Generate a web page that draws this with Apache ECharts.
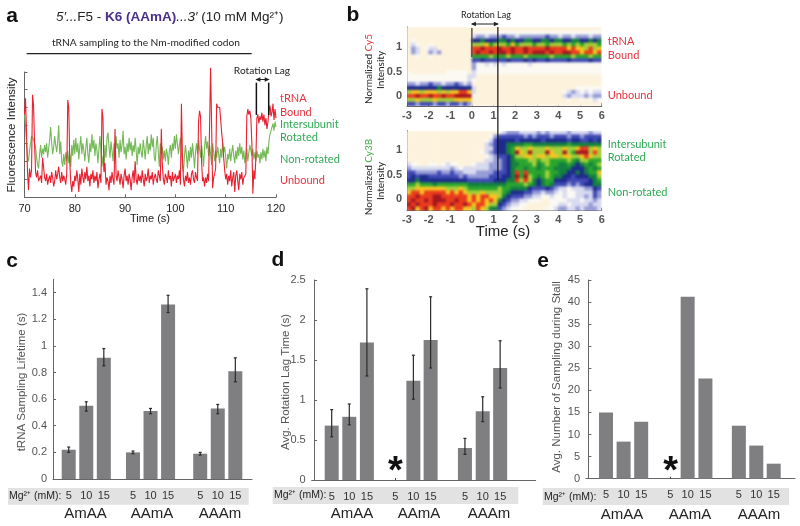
<!DOCTYPE html>
<html><head><meta charset="utf-8">
<script src="https://cdn.jsdelivr.net/npm/echarts@6/dist/echarts.min.js"></script>
<style>html,body{margin:0;padding:0;background:#fff}#c{width:800px;height:526px}</style></head>
<body><div id="c"></div>
<script>
// ---------- data ----------
const traceStart = 70, traceStep = 0.2;
const traceRed = [
4.6,5.5,3.6,1.4,0.4, 1.6,1.1,1.5,5.7,5.1, 3.0,1.4,1.1,1.5,0.9, 1.0,1.2,0.8,2.2,2.1, 1.1,0.9,1.3,0.7,1.0,
1.2,0.8,1.4,1.1,0.6, 0.9,1.5,1.0,1.3,1.7, 1.1,0.8,1.4,0.9,1.2, 1.0,0.7,1.3,5.4,5.0, 2.0,0.8,0.3,0.9,0.6,
1.2,0.9,1.5,1.0,0.3, 1.3,0.7,1.6,1.1,0.8, 1.4,1.0,1.7,0.9,1.2, 0.6,1.3,1.0,1.5,0.8, 1.2,0.9,1.4,0.5,1.0,
1.3,0.8,4.9,4.4,1.4, 1.9,0.7,1.1,0.9,0.4, 1.2,0.8,1.4,1.0,0.7, 3.8,1.2,0.9,1.5,1.1, 0.7,1.3,1.0,0.5,1.2,
1.6,0.9,1.2,0.7,1.3, 1.0,0.4,1.1,1.5,0.8, 2.0,1.0,0.7,1.3,0.9, 1.2,0.8,1.5,1.0,0.6, 1.3,0.9,1.1,1.6,0.8,
1.2,1.0,1.4,0.7,1.1, 1.3,1.0,0.8,1.5,1.2, 0.9,3.8,1.8,1.0,0.7, 1.3,1.1,0.8,1.5,1.0, 1.2,0.6,1.4,0.9,1.1,
1.3,0.8,1.2,1.0,1.5, 0.7,5.2,2.2,1.0,0.6, 1.2,0.9,1.4,0.8,1.1, 0.7,1.3,1.5,1.0,0.8, 1.4,1.1,0.9,4.2,4.8,
4.5,2.0,0.9,1.1,0.6, 1.1,0.8,1.3,0.9,1.0, 7.2,4.0,0.5,1.1,1.3, 1.6,5.2,5.0,4.9,5.0, 4.9,3.6,3.0,2.2,1.5,
1.0,1.3,0.7,1.2,0.9, 1.5,0.6,1.1,1.4,0.3, 1.2,1.5,0.9,0.4,1.3, 1.0,1.4,0.7,1.1,1.0, 1.3,4.5,4.9,4.6,4.8,
4.4,3.0,0.2,1.5,1.0, 2.2,4.4,4.6,4.1,4.5, 4.3,4.7,4.2,4.6,4.0, 4.4,3.8,4.2,4.8,5.1, 4.5,4.7,5.2,4.3,4.9, 4.4];
const traceGreen = [
4.6,4.0,3.0,2.2,2.0, 2.6,3.0,3.4,3.5,3.2, 3.3,2.8,2.2,1.8,1.6, 2.4,2.9,2.2,2.7,2.4, 2.9,2.5,3.0,2.2,2.7,
3.2,3.9,3.0,2.4,2.8, 3.4,2.9,2.5,3.1,4.0, 2.4,3.1,2.0,1.7,2.4, 1.8,2.5,2.0,2.6,1.9, 2.4,1.7,2.9,2.3,3.2,
2.4,3.3,2.5,3.0,2.1, 2.8,3.4,2.4,3.0,2.6, 2.0,2.8,3.3,2.4,1.9, 3.0,2.5,3.5,2.7,3.2, 2.3,3.0,2.6,1.9,2.7,
3.4,2.5,1.7,2.3,1.5, 2.9,2.2,3.3,3.6,2.8, 2.2,3.1,2.6,2.0,3.0, 2.4,3.4,2.7,3.0,2.2, 3.2,2.5,2.9,3.7,2.4,
2.8,2.1,3.0,2.5,3.3, 2.6,3.1,2.3,2.9,2.5, 3.3,2.6,1.8,2.8,2.4, 3.0,2.5,2.2,3.2,2.7, 2.1,2.9,3.4,2.4,3.0,
2.6,3.5,2.8,3.3,2.2, 2.0,2.9,3.4,2.5,1.7, 3.0,2.4,2.8,2.1,2.6, 2.0,2.7,2.4,1.8,2.6, 2.9,2.2,3.0,2.6,3.4,
2.7,3.5,3.0,2.4,2.9, 3.3,2.4,1.8,1.4,2.3, 2.9,2.3,1.6,2.6,2.0, 2.8,2.2,3.0,2.4,1.6, 2.5,3.0,2.4,3.2,2.7,
2.2,2.9,2.4,1.7,2.8, 3.4,2.7,3.1,2.3,2.9, 2.4,1.8,3.0,2.5,2.0, 2.6,2.2,2.8,2.4,1.9, 2.7,2.2,3.0,2.5,2.8,
2.2,1.6,2.4,2.1,2.7, 2.0,2.5,2.9,2.3,1.9, 2.6,2.1,2.8,2.3,3.0, 2.4,2.8,2.1,2.6,1.9, 2.3,2.7,2.0,2.5,2.9,
3.0,2.3,2.7,2.1,2.5, 2.0,2.6,2.2,2.4,1.9, 2.5,2.1,2.7,2.2,2.6, 2.0,2.8,2.4,3.1,3.5, 3.4,3.9,4.1,3.7,4.2, 3.9];
const rotationLagStart = 116.1, rotationLagEnd = 118.55;

// density levels 0..b, one string per row from top (1.36) to bottom (-0.16), 0.2 s per column
const heatTop = [
"00000 00000 00000 00000 00000 00000 00000 00000 00000",
"00000 00000 00000 01111 11111 11111 11111 11111 11111",
"00000 00000 00000 23323 33433 23333 33433 23323 33233",
"01000 00000 00000 55655 56656 55665 56656 65566 55656",
"02100 10000 00000 88897 88879 78887 88788 87878 78887",
"03201 22000 00000 aabaa abaab aabaa aabaa aa9a9 98a89",
"03200 32300 00000 abaab abbab aabab bbaba abbaa 9aa9a",
"00100 10000 00000 77778 77787 77877 77787 77787 77877",
"00000 00000 00000 44544 44454 44545 44544 44544 44544",
"00000 00000 00000 31121 21211 11121 11111 11111 11111",
"00000 00000 00000 31111 11111 11111 11111 11111 11111",
"10000 00001 11110 21111 11111 11111 11111 11111 11111",
"11111 11111 11112 20000 00000 00000 00000 00000 00000",
"11111 11111 11112 10000 00000 00000 00000 00000 00000",
"33233 43323 34323 00000 00000 00000 00000 00000 00000",
"55555 55655 55555 20000 00000 00000 00000 00001 11111",
"89989 99898 99aa9 20000 00000 00000 00000 01232 12122",
"aabaa baaba abbbb 10000 00000 00000 00000 02322 23233",
"88988 89888 89999 00000 00000 00000 00000 00100 10121",
"44344 43443 44343 00000 00000 00000 00000 00000 00000"];
const heatBottom = [
"00000 00000 00000 00000 01233 32222 32322 22322 22322",
"00000 00000 00000 00001 34444 44343 44434 44344 34444",
"00000 00000 00000 00012 45555 45555 54555 55455 44545",
"00000 00000 00000 00023 45566 66776 66666 66766 66666",
"00000 00000 00000 00022 45567 98898 88988 89889 aa898",
"00000 00000 00000 00123 45567 b98b8 88b98 8b87b bb8a8",
"00000 00000 00000 00012 34456 88998 99899 89988 9a988",
"00000 00000 00000 00022 33456 77788 78877 77876 88777",
"21100 11012 11000 12223 33456 67778 67877 66765 67678",
"32222 22222 32122 22223 33456 77677 67776 66655 56767",
"44333 33433 43322 23333 44456 a7a77 77877 66556 56779",
"45455 44444 44343 33334 44556 b7b87 67876 65545 55668",
"55655 55555 55554 44444 55566 a8a86 56775 55444 44567",
"77877 76777 77776 66666 66677 77876 56764 44343 45566",
"88999 99998 88987 77777 78776 66654 44543 22122 23354",
"9aa9a aaaa9 a9a98 88988 88765 55443 32332 12112 22243",
"aabaa abbaa aaaa9 a9aa9 98654 44332 21121 12112 23243",
"abaab abbba abaa9 a9a9a 96543 32211 10011 11222 12232",
"babaa abaaa baaba 9aa98 85432 21100 00011 22122 22322",
"ab9ab 9aa9a 9aa99 8a986 64321 11000 00112 33223 23332"];
const heatColors = ['#fdf2dc','#fbf9f2','#d8daf0','#959bd6','#3f49b5','#1c2a8c','#12803f','#2aa52d','#a6cf37','#f6c51e','#ea3b1c','#a5141f'];

const mgLabels = ['5','10','15','5','10','15','5','10','15'];
const groupNames = ['AmAA','AAmA','AAAm'];

const lifetime    = [0.22,0.55,0.91, 0.20,0.51,1.31, 0.19,0.53,0.81];
const lifetimeLow = [0.20,0.51,0.85, 0.19,0.49,1.25, 0.18,0.49,0.73];
const lifetimeHigh= [0.24,0.58,0.98, 0.21,0.53,1.38, 0.20,0.56,0.91];

const lagTime     = [0.68,0.79,1.72, null,1.24,1.75, 0.40,0.86,1.40];
const lagLow      = [0.54,0.69,1.30, null,1.01,1.40, 0.32,0.73,1.15];
const lagHigh     = [0.88,0.95,2.39, null,1.56,2.29, 0.52,1.04,1.74];

const samplingCount = [15,8.4,12.9, null,41.2,22.7, 12,7.5,3.4];

const slotsC = [1,2,3, 4.66,5.66,6.66, 8.49,9.49,10.49];
const slotsD = [1,2,3, 4.61,5.64,6.62, 8.57,9.58,10.57];
const slotsE = [1,2,3, 4.66,5.64,6.65, 8.55,9.54,10.53];

// ---------- helpers ----------
const FONT = 'Liberation Sans', SIDE = 'Lato';
const RED = '#e5343f', GREEN = '#2faa55', GREY = '#555';
const hexRows = rows => {
  const out = [];
  rows.forEach((r, y) => r.replace(/ /g,'').split('').forEach((c, x) => out.push([x, rows.length - 1 - y, parseInt(c, 16)])));
  return out;
};
const idx = n => Array.from({length:n}, (_, i) => i);
const grids = [
  {left:24.5, top:72,    width:251.5, height:125.3},
  {left:407,  top:27,    width:194.7, height:79},
  {left:407,  top:130.7, width:194.7, height:80},
  {left:53,   top:279.3, width:199,   height:199.7},
  {left:311.7,top:280,   width:224,   height:200},
  {left:586,  top:280,   width:209,   height:198.7}
];
const axisLine = {show:true, lineStyle:{color:'#666', width:1}};
const tick = {show:true, inside:true, length:3, lineStyle:{color:'#666'}};
const barX = (g, min, max, slots, blank) => ({
  type:'value', gridIndex:g, min, max, splitLine:{show:false}, axisLine,
  axisTick: blank ? {show:true, inside:true, length:2, lineStyle:{color:'#444'}, customValues:[blank]} : {show:false},
  axisLabel:{show:true, customValues:slots, margin:11, fontSize:11, color:'#333', fontFamily:FONT,
             formatter:(v)=> mgLabels[slots.indexOf(v)]}
});
const barY = (g, max, vals) => ({
  type:'value', gridIndex:g, min:0, max, splitLine:{show:false}, axisLine,
  axisTick:{...tick, customValues:vals},
  axisLabel:{customValues:vals, margin:6, fontSize:11, color:GREY, fontFamily:FONT}
});
const heatCat = (g, n) => ({type:'category', gridIndex:g, data:idx(n), show:false});
const heatValX = g => ({
  type:'value', gridIndex:g, position:'bottom', min:-3, max:6, splitLine:{show:false}, axisLine,
  axisTick:{...tick, customValues:[-3,-2,-1,0,1,2,3,4,5,6]},
  axisLabel:{customValues:[-3,-2,-1,0,1,2,3,4,5,6], margin:4, fontSize:11, fontWeight:'bold', color:GREY, fontFamily:FONT}
});
const heatValY = (g, min, max) => ({
  type:'value', gridIndex:g, position:'left', min, max, splitLine:{show:false}, axisLine,
  axisTick:{...tick, customValues:[0,0.5,1]},
  axisLabel:{customValues:[0,0.5,1], margin:5, fontSize:11, fontWeight:'bold', color:GREY, fontFamily:FONT}
});
const xAxis = [
  {type:'value', gridIndex:0, min:70, max:120, interval:10, splitLine:{show:false}, axisLine, axisTick:tick,
   axisLabel:{margin:6, fontSize:11, color:'#222', fontFamily:FONT}},
  heatCat(1,45), heatValX(1), heatCat(2,45), heatValX(2),
  barX(3,0.105,11.44,slotsC,null), barX(4,-0.136,12.59,slotsD,slotsD[3]), barX(5,-0.136,11.74,slotsE,slotsE[3])
];
const yAxis = [
  {type:'value', gridIndex:0, min:0, max:6.96, splitLine:{show:false}, axisLine,
   axisTick:{...tick, customValues:[1,2,3,4,5,6,6.96]}, axisLabel:{show:false}},
  heatCat(1,20), heatValY(1,-0.196,1.4), heatCat(2,20), heatValY(2,-0.23,1.39),
  barY(3,1.5,[0,0.2,0.4,0.6,0.8,1,1.2,1.4]), barY(4,2.5,[0,0.5,1,1.5,2,2.5]), barY(5,45,[0,5,10,15,20,25,30,35,40,45])
];
const timed = arr => arr.map((v,i) => [traceStart + i*traceStep, v]);
const bar = (xi, yi, slots, vals) => ({
  type:'bar', xAxisIndex:xi, yAxisIndex:yi, barWidth:14, silent:true,
  itemStyle:{color:'#7f7f82'}, data:slots.map((s,i)=>[s, vals[i]]).filter(d=>d[1]!=null)
});
const errs = (xi, yi, slots, lo, hi) => ({
  type:'custom', xAxisIndex:xi, yAxisIndex:yi, silent:true, z:5, clip:false,
  encode:{x:0, y:[1,2]},
  data:slots.map((s,i)=>[s, lo[i], hi[i]]).filter(d=>d[1]!=null),
  renderItem:(p, api) => {
    const a = api.coord([api.value(0), api.value(1)]), b = api.coord([api.value(0), api.value(2)]);
    const st = {stroke:'#2a2a2a', lineWidth:1.2};
    return {type:'group', children:[
      {type:'line', shape:{x1:a[0],y1:a[1],x2:b[0],y2:b[1]}, style:st},
      {type:'line', shape:{x1:a[0]-1.5,y1:a[1],x2:a[0]+1.5,y2:a[1]}, style:st},
      {type:'line', shape:{x1:b[0]-1.5,y1:b[1],x2:b[0]+1.5,y2:b[1]}, style:st}
    ]};
  }
});
const series = [
  {type:'line', xAxisIndex:0, yAxisIndex:0, data:timed(traceGreen), showSymbol:false, silent:true, clip:false,
   lineStyle:{color:'#74b957', width:1.1}},
  {type:'line', xAxisIndex:0, yAxisIndex:0, data:timed(traceRed), showSymbol:false, silent:true, clip:false,
   lineStyle:{color:'#e8202f', width:1.1}},
  {type:'heatmap', xAxisIndex:1, yAxisIndex:1, data:hexRows(heatTop), silent:true, progressive:0, zlevel:1},
  {type:'heatmap', xAxisIndex:3, yAxisIndex:3, data:hexRows(heatBottom), silent:true, progressive:0, zlevel:1},
  bar(5,5,slotsC,lifetime), errs(5,5,slotsC,lifetimeLow,lifetimeHigh),
  bar(6,6,slotsD,lagTime), errs(6,6,slotsD,lagLow,lagHigh),
  bar(7,7,slotsE,samplingCount)
];
// ---------- annotation text ----------
const T = (text,x,y,o={}) => ({type:'text', x, y, rotation:o.rot||0, z:10, silent:true, style:{
  text, fill:o.color||'#222', font:`${o.weight||'normal'} ${o.size||11}px "${o.family||FONT}"`,
  align:o.align||'center', verticalAlign:'middle', rich:o.rich}});
const R90 = Math.PI/2;
const band = (x,y,w,h) => ({type:'rect', z:-1, silent:true, shape:{x,y,width:w,height:h}, style:{fill:'#e2e2e3'}});
const cyRich = c => ({k:{fill:'#222',font:`10px "${SIDE}"`}, c:{fill:c,font:`10px "${SIDE}"`}});
const sideOpts = c => ({align:'left',size:11,family:SIDE,color:c});
const texts = [
  T('a',12,16,{size:21,weight:'bold',color:'#111'}), T('b',353,15,{size:21,weight:'bold',color:'#111'}),
  T('c',12,261,{size:21,weight:'bold',color:'#111'}), T('d',278,260,{size:21,weight:'bold',color:'#111'}),
  T('e',543,261,{size:21,weight:'bold',color:'#111'}),
  T("{i|5′...}{n|F5 - }{b|K6 (AAmA)}{i|...3′}{n| (10 mM Mg²⁺)}",56,17,{align:'left',rich:{
    i:{fontStyle:'italic',fontSize:13.5,fontFamily:FONT,fill:'#222'},
    n:{fontSize:13.5,fontFamily:FONT,fill:'#222'},
    b:{fontWeight:'bold',fontSize:13.5,fontFamily:FONT,fill:'#4a2f8a'}}}),
  T('tRNA sampling to the Nm-modified codon',146,43,{size:10.2,family:SIDE}),
  T('Rotation Lag',262,71,{size:10.2,family:SIDE}),
  T('Fluorescence Intensity',12,135,{rot:R90,size:11.5}),
  T('Time (s)',150,219,{size:11}),
  T('tRNA',280,98.7,sideOpts(RED)), T('Bound',280,112.7,sideOpts(RED)),
  T('Intersubunit',280,124,sideOpts(GREEN)), T('Rotated',280,137.7,sideOpts(GREEN)),
  T('Non-rotated',280,159,sideOpts(GREEN)), T('Unbound',280,180,sideOpts(RED)),
  T('Rotation Lag',486,15,{size:9,family:SIDE}),
  T('{k|Normalized }{c|Cy5}',369,69,{rot:R90,rich:cyRich(RED)}),
  T('Intensity',381,70,{rot:R90,size:10,family:SIDE}),
  T('{k|Normalized }{c|Cy3B}',369,177,{rot:R90,rich:cyRich('#3fae49')}),
  T('Intensity',381,181,{rot:R90,size:10,family:SIDE}),
  T('Time (s)',503,232,{size:15}),
  T('tRNA',607.7,41.7,sideOpts(RED)), T('Bound',607.7,55,sideOpts(RED)), T('Unbound',607.7,95,sideOpts(RED)),
  T('Intersubunit',607.7,144,sideOpts(GREEN)), T('Rotated',607.7,157.7,sideOpts(GREEN)), T('Non-rotated',607.7,192,sideOpts(GREEN)),
  T('tRNA Sampling Lifetime (s)',22,382,{rot:R90,size:11.5,color:GREY}),
  T('Avg. Rotation Lag Time (s)',286,382,{rot:R90,size:11.5,color:GREY}),
  T('Avg. Number of Sampling during Stall',557,377,{rot:R90,size:11.5,color:GREY}),
  T('Mg²⁺ (mM):',9,496,{align:'left',size:10.5}),
  T('Mg²⁺ (mM):',274,495,{align:'left',size:10.5}),
  T('Mg²⁺ (mM):',544,497,{align:'left',size:10.5}),
  T('*',395.3,473,{size:38,weight:'bold',color:'#111'}),
  T('*',670.7,473,{size:38,weight:'bold',color:'#111'})
];
[[85.6,152,220,514],[352,419,489,514],[622,690,759,515]].forEach(p =>
  groupNames.forEach((g,i)=>texts.push(T(g,p[i],p[3],{size:15}))));
const rects = [band(8,488,240.7,16.7), band(272.7,487,245.6,17), band(542.7,488,246.3,17)];

const chart = echarts.init(document.getElementById('c'), null, {renderer:'canvas'});
chart.setOption({
  animation:false, backgroundColor:'#fff', textStyle:{fontFamily:FONT},
  grid:grids.map(g=>({...g, containLabel:false})), xAxis, yAxis, series,
  visualMap:{show:false, type:'continuous', min:0, max:11, seriesIndex:[2,3], inRange:{color:heatColors}, calculable:false},
  graphic:{elements:[...rects, ...texts]}
});
// ---------- rotation-lag marks, placed through the scales ----------
const px = (ax, ay, x, y) => chart.convertToPixel({xAxisIndex:ax, yAxisIndex:ay}, [x, y]);
const vline = (x,y1,y2,w,c) => ({type:'line', zlevel:2, silent:true, shape:{x1:x,y1,x2:x,y2}, style:{stroke:c||'#111', lineWidth:w}});
const hline = (x1,x2,y,w) => ({type:'line', z:12, silent:true, shape:{x1,y1:y,x2,y2:y}, style:{stroke:'#222', lineWidth:w}});
const arrow = (x1,x2,y) => [
  hline(x1,x2,y,1),
  {type:'polygon', z:12, silent:true, shape:{points:[[x1-1,y],[x1+4,y-2.2],[x1+4,y+2.2]]}, style:{fill:'#222'}},
  {type:'polygon', z:12, silent:true, shape:{points:[[x2+1,y],[x2-4,y-2.2],[x2-4,y+2.2]]}, style:{fill:'#222'}}
];
const a1 = px(0,0,rotationLagStart,0)[0], a2 = px(0,0,rotationLagEnd,0)[0];
const b0 = px(2,2,0,0)[0], b1 = px(2,2,1.2,0)[0];
chart.setOption({graphic:{elements:[...rects, ...texts,
  hline(26.7,251.7,53.7,1.2),
  vline(a1,82.7,115,1.5), vline(a2,82.7,115,1.5), ...arrow(a1,a2,79.5),
  vline(b0,28,57,1.2,'#333'), vline(b1,27,180,1.2), ...arrow(b0,b1,24)
]}}, {replaceMerge:['graphic']});
// soften the density maps, as in the source image, and keep them inside their plot frames
const heatLayer = chart.getZr().painter.getLayer(1);
heatLayer.dom.style.filter = 'blur(1.1px)';
heatLayer.dom.style.clipPath = "path('M407 27H601.7V106H407Z M407 130.7H601.7V210.7H407Z')";
</script></body></html>
